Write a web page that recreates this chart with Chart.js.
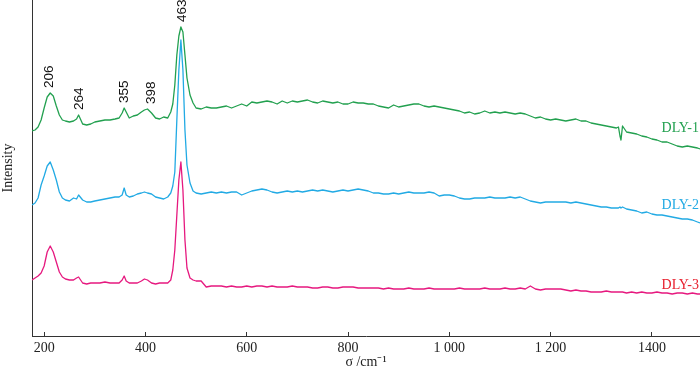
<!DOCTYPE html>
<html><head><meta charset="utf-8">
<script src="https://cdn.jsdelivr.net/npm/chart.js@4/dist/chart.umd.min.js"></script>
<style>html,body{margin:0;padding:0;background:#fff}</style>
</head><body>
<canvas id="c" width="700" height="371"></canvas>
<script>
// Raman shift (cm-1), shared by all three spectra
const wavenumbers = [176,182,188,194,200,206,212,218,224,230,
 236,242,250,258,264,268,276,284,292,300,
 310,320,330,340,348,354,358,362,368,376,
 384,392,398,404,412,420,428,436,444,450,
 454,458,462,466,470,474,478,482,488,494,
 500,510,520,
 530,540,550,560,570,580,590,600,610,620,
 630,640,650,660,670,680,690,700,710,720,
 730,740,750,760,770,780,790,800,810,820,
 830,840,850,860,870,880,890,900,910,920,
 930,940,950,960,970,980,990,1000,1010,1020,
 1030,1040,1050,1060,1070,1080,1090,1100,1110,1120,
 1130,1140,1150,1160,1170,1180,1190,1200,1210,1220,
 1230,1240,1250,1260,1270,1280,1290,1300,1310,1320,
 1330,1334,1337,1339,1342,
 1350,1360,1370,1380,1390,1400,1410,1420,1430,1440,1450,1460,1470,1480,1490,
 1495];

// Intensities (arbitrary units, spectra offset vertically)
const dly1 = [205,206,209,216,228,239,243,240,230,221,
 216,215,214,215,217,221,212,211,212,214,
 215,216,216,217,218,223,228,224,218,220,
 221,224,226,227,223,218,217,219,218,224,
 232,251,281,300,309,304,281,258,241,233,
 228,227,229,
 228,228,229,230,228,230,232,230,234,233,
 234,235,234,232,235,233,235,234,235,236,
 234,233,235,234,233,234,232,232,234,233,
 233,232,232,230,229,228,231,229,230,231,
 232,232,230,229,230,229,228,227,226,225,
 223,224,222,223,225,223,224,223,224,223,
 222,223,222,220,218,219,217,216,217,216,
 215,216,217,215,215,213,212,211,210,209,
 208,209,200,196,210,
 204,203,202,200,199,197,196,194,194,192,190,189,190,189,188,
 187];

const dly2 = [131,133,138,151,160,170,174,166,156,144,
 138,136,135,138,137,141,136,134,134,135,
 136,137,138,139,139,141,148,141,139,140,
 142,143,144,143,142,139,138,137,139,143,
 150,164,216,266,296,266,206,171,153,145,
 143,142,143,
 144,143,144,143,144,144,141,143,145,146,
 147,146,144,143,144,145,144,145,144,145,
 146,145,146,145,144,145,146,145,146,147,
 146,145,143,143,142,142,143,142,143,144,
 143,143,143,144,143,140,141,141,140,138,
 137,137,138,138,138,139,138,138,138,139,
 138,139,137,135,134,133,134,134,134,134,
 134,133,134,133,132,131,130,129,129,128,
 128,128,129,128,129,
 127,126,125,123,124,122,121,121,120,119,118,117,117,116,114,
 113];

const dly3 = [56,58,60,63,70,84,90,84,74,64,
 59,57,56,56,58,59,53,52,53,53,
 53,54,53,53,53,56,60,55,53,53,
 53,55,57,56,53,52,53,53,53,56,
 66,86,121,156,174,146,96,68,58,56,
 55,55,49,
 50,50,50,49,50,49,49,50,49,50,
 50,49,50,49,49,49,50,49,49,49,
 48,48,49,49,48,48,49,49,49,48,
 48,48,48,48,47,48,47,47,47,48,
 47,47,47,48,47,47,47,47,47,48,
 47,47,47,47,48,47,47,47,48,47,
 47,48,47,50,47,46,47,47,47,47,
 46,45,46,45,45,44,44,44,45,44,
 44,44,44,44,44,
 43,44,43,44,43,43,44,43,43,42,43,43,42,43,42,
 42];

const seriesNames = ['DLY-1','DLY-2','DLY-3'];
const seriesLabelY = [208,131,51];
const xTickValues = [200,400,600,800,1000,1200,1400];
const xTickLabels = ['200','400','600','800','1 000','1 200','1400'];
const peakLabels = ['206','264','355','398','463'];
const peakLabelAt = [210,269,358,411,472];

const lineColors = ['#22a04f','#22aae4','#e6197f'];
const labelColors = ['#22a04f','#22aae4','#e8202e'];

const annot = {
  id: 'annot',
  afterDatasetsDraw(chart) {
    const {ctx, scales: {x, y}} = chart;
    ctx.save();
    ctx.fillStyle = '#111';
    ctx.font = '13.5px "Liberation Sans", Arial, sans-serif';
    ctx.textBaseline = 'middle';
    ctx.textAlign = 'left';
    peakLabels.forEach((t, i) => {
      const at = peakLabelAt[i];
      let best = -Infinity;
      wavenumbers.forEach((w, j) => { if (Math.abs(w - at) <= 8 && dly1[j] > best) best = dly1[j]; });
      const px = x.getPixelForValue(at);
      const py = y.getPixelForValue(best) - 5;
      ctx.save();
      ctx.translate(px, py);
      ctx.rotate(-Math.PI / 2);
      ctx.fillText(t, 0, 0);
      ctx.restore();
    });
    ctx.font = '14px "Liberation Serif", "Times New Roman", serif';
    ctx.textAlign = 'right';
    seriesNames.forEach((n, i) => {
      ctx.fillStyle = labelColors[i];
      ctx.fillText(n, x.right - 1, y.getPixelForValue(seriesLabelY[i]));
    });
    ctx.restore();
  }
};

const series = [dly1, dly2, dly3];
new Chart(document.getElementById('c'), {
  type: 'line',
  data: {
    datasets: series.map((s, k) => ({
      label: seriesNames[k],
      data: wavenumbers.map((w, i) => ({x: w, y: s[i]})),
      borderColor: lineColors[k],
      borderWidth: 1.3,
      pointRadius: 0,
      tension: 0,
      fill: false,
      borderJoinStyle: 'round'
    }))
  },
  options: {
    responsive: false,
    animation: false,
    layout: {padding: 0},
    plugins: {legend: {display: false}, tooltip: {enabled: false}},
    scales: {
      x: {
        type: 'linear', min: 176, max: 1495,
        afterBuildTicks: s => { s.ticks = xTickValues.map(v => ({value: v})); },
        ticks: {
          callback: v => { const i = xTickValues.indexOf(v); return i >= 0 ? xTickLabels[i] : ''; },
          font: {family: '"Liberation Serif", "Times New Roman", serif', size: 14},
          color: '#222', padding: 8, maxRotation: 0, autoSkip: false
        },
        grid: {display: true, drawOnChartArea: false, drawTicks: true, tickLength: -4, color: '#333', lineWidth: 1},
        border: {display: true, color: '#333', width: 1},
        title: {display: true, text: 'σ /cm⁻¹', font: {family: '"Liberation Serif", "Times New Roman", serif', size: 14}, color: '#222', padding: 0},
        afterFit: s => { s.height = 35; }
      },
      y: {
        min: 0, max: 336,
        ticks: {display: false},
        grid: {display: false},
        border: {display: true, color: '#333', width: 1},
        title: {display: true, text: 'Intensity', font: {family: '"Liberation Serif", "Times New Roman", serif', size: 14}, color: '#222', padding: 0},
        afterFit: s => { s.width = 32; }
      }
    }
  },
  plugins: [annot]
});
</script>
</body></html>
